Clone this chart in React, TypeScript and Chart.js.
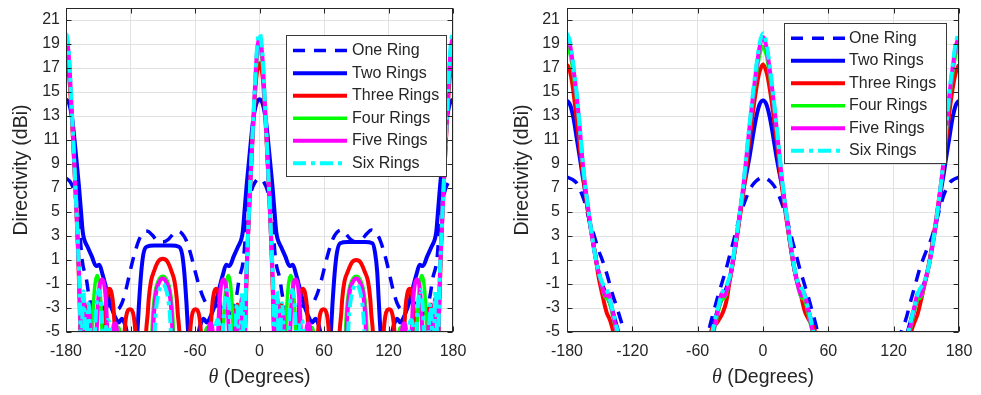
import { useEffect, useRef } from "react";
import { Chart, registerables } from "chart.js";
Chart.register(...registerables);

type P = [number, number];

const seriesLabels = ["One Ring", "Two Rings", "Three Rings", "Four Rings", "Five Rings", "Six Rings"];
const xTickValues = [-180, -120, -60, 0, 60, 120, 180];
const yTickValues = [-5, -3, -1, 1, 3, 5, 7, 9, 11, 13, 15, 17, 19, 21];
const xRange = [-180, 180];
const yRange = [-5, 22];
const yTitle = "Directivity (dBi)";

// ---------- Left panel ----------
const leftOne: P[] = [[-180,7.8],[-176,7.5],[-172,6.6],[-168,4.2],[-165,1.0],[-161,-0.6],[-159,-1.8],[-156,-3.0],[-152,-3.5],[-147,-3.2],[-142,-2.8],[-137,-2.9],[-132,-3.1],[-128,-2.6],[-124,-1.4],[-120,0.2],[-116,1.6],[-112,2.7],[-108,3.3],[-104,3.4],[-100,3.1],[-95,2.6],[-90,2.5],[-85,2.7],[-80,3.2],[-76,3.4],[-72,3.2],[-68,2.6],[-64,1.5],[-60,0.1],[-56,-1.2],[-52,-2.2],[-48,-2.8],[-43,-2.9],[-38,-2.8],[-33,-3.2],[-28,-3.5],[-24,-3.0],[-21,-1.8],[-19,-0.6],[-15,1.0],[-12,4.2],[-8,6.6],[-4,7.5],
[0,7.8],[4,7.5],[8,6.6],[12,4.2],[15,1.0],[19,-0.6],[21,-1.8],[24,-3.0],[28,-3.5],[33,-3.2],[38,-2.8],[43,-2.9],[48,-2.8],[52,-2.2],[56,-1.2],[60,0.2],[64,1.6],[68,2.7],[72,3.3],[76,3.5],[80,3.2],[85,2.7],[90,2.5],[95,2.7],[100,3.2],[104,3.5],[108,3.3],[112,2.7],[116,1.6],[120,0.2],[124,-1.4],[128,-2.6],[132,-3.1],[137,-2.6],[142,-2.4],[147,-3.0],[152,-3.5],[156,-3.0],[159,-1.8],[161,-0.6],[165,1.0],[168,4.2],[172,6.6],[176,7.5],[180,7.8]];

const leftTwo: P[] = [[-180,14.4],[-177,14.0],[-174,12.6],[-171,10.0],[-168,7.2],[-166,5.0],[-164.5,3.4],[-163,2.7],[-160,2.1],[-156,1.3],[-152,0.5],[-149,0.6],[-146,-0.2],[-143,-1.2],[-139,-2.6],[-135,-3.6],[-131,-4.2],[-128,-3.9],[-125,-4.4],[-122,-5.6],[-118,-7],[-114,-5.5],[-112,-2.5],[-110,0],[-108,1.5],[-105,2.1],[-98,2.2],[-90,2.2],[-82,2.2],[-75,2.1],[-72,1.5],[-70,0],[-68,-2.5],[-66,-5.5],[-62,-7],[-58,-5.6],[-55,-4.4],[-52,-3.9],[-49,-4.2],[-45,-3.6],[-41,-2.6],[-37,-1.2],[-34,-0.2],[-31,0.6],[-28,0.5],[-24,1.3],[-20,2.1],[-17,2.7],[-15.5,3.4],[-14,5.0],[-12,7.2],[-9,10.0],[-6,12.6],[-3,14.0],
[0,14.4],[3,14.0],[6,12.6],[9,10.0],[12,7.2],[14,5.0],[15.5,3.4],[17,2.7],[20,2.1],[24,1.3],[28,0.5],[31,0.6],[34,-0.2],[37,-1.2],[41,-2.6],[45,-3.6],[49,-4.2],[52,-3.9],[55,-4.4],[58,-5.6],[62,-7],[66,-5.5],[68,-2.5],[70,0],[72,1.6],[75,2.4],[82,2.5],[90,2.5],[98,2.5],[105,2.4],[107.5,1.6],[109.5,0],[111,-2.5],[113,-5.5],[117,-7],[122,-5.6],[125,-4.4],[128,-3.9],[131,-4.2],[135,-3.6],[139,-2.6],[143,-1.2],[146,-0.2],[149,0.6],[152,0.5],[156,1.3],[160,2.1],[163,2.7],[164.5,3.4],[166,5.0],[168,7.2],[171,10.0],[174,12.6],[177,14.0],[180,14.4]];

const leftThree: P[] = [[-180,17.4],[-178.5,17.1],[-177,16.2],[-175,13.6],[-173,10.2],[-171,6.5],[-169,2.3],[-167.5,-2],[-166.5,-5.5],[-165,-10],[-162.5,-5],[-161,-3.3],[-159.5,-2.7],[-158,-3.2],[-156.5,-5],[-154,-10],[-147,-10],[-144.5,-5],[-143,-2.6],[-141.5,-1.7],[-139.5,-1.4],[-137.5,-1.8],[-136,-2.8],[-134.5,-5],[-132,-10],[-128,-10],[-125.5,-5],[-124,-3.7],[-120.5,-3.1],[-117,-3.7],[-115.5,-5],[-113,-10],[-108,-10],[-105.5,-5],[-104,-3.5],[-103,-2.2],[-101,-0.8],[-98,0.1],[-94,0.9],[-90,1.1],[-86,0.9],[-82,0.1],[-79,-0.8],[-77,-2.2],[-76,-3.5],[-74.5,-5],[-72,-10],[-67,-10],[-64.5,-5],[-63,-3.7],[-59.5,-3.1],[-56,-3.7],[-54.5,-5],[-52,-10],[-48,-10],[-45.5,-5],[-44,-2.8],[-42.5,-1.8],[-40.5,-1.4],[-38.5,-1.7],[-37,-2.6],[-35.5,-5],[-33,-10],[-26,-10],[-23.5,-5],[-22,-3.2],[-20.5,-2.7],[-19,-3.3],[-17.5,-5],[-15,-10],[-13.5,-5.5],[-12.5,-2],[-11,2.3],[-9,6.5],[-7,10.2],[-5,13.6],[-3,16.2],[-1.5,17.1],
[0,17.4],[1.5,17.1],[3,16.2],[5,13.6],[7,10.2],[9,6.5],[11,2.3],[12.5,-2],[13.5,-5.5],[15,-10],[17.5,-5],[19,-3.3],[20.5,-2.7],[22,-3.2],[23.5,-5],[26,-10],[33,-10],[35.5,-5],[37,-2.6],[38.5,-1.7],[40.5,-1.4],[42.5,-1.8],[44,-2.8],[45.5,-5],[48,-10],[52,-10],[54.5,-5],[56,-3.7],[59.5,-3.1],[63,-3.7],[64.5,-5],[67,-10],[72,-10],[74.5,-5],[76,-3.5],[77,-2.2],[79,-0.8],[82,0.0],[86,0.8],[90,1.0],[94,0.8],[98,0.0],[101,-0.8],[103,-2.2],[104,-3.5],[105.5,-5],[108,-10],[113,-10],[115.5,-5],[117,-3.7],[120.5,-3.1],[124,-3.7],[125.5,-5],[128,-10],[132,-10],[134.5,-5],[136,-2.8],[137.5,-1.8],[139.5,-1.4],[141.5,-1.7],[143,-2.6],[144.5,-5],[147,-10],[154,-10],[156.5,-5],[158,-3.2],[159.5,-2.7],[161,-3.3],[162.5,-5],[165,-10],[166.5,-5.5],[167.5,-2],[169,2.3],[171,6.5],[173,10.2],[175,13.6],[177,16.2],[178.5,17.1],[180,17.4]];

const leftFour: P[] = [[-180,18.7],[-178.5,18.3],[-177,17.0],[-175,13.8],[-173,10.3],[-171,6.4],[-169,2.3],[-167.5,-1.5],[-166.5,-5],[-165.5,-10],[-164.5,-5],[-163,-2.9],[-161.5,-5],[-160.5,-10],[-160,-5],[-158.7,-3.8],[-157.4,-5],[-156.4,-10],[-155.5,-5],[-154.5,-2.8],[-153,-1.0],[-151,-0.3],[-149,-1.0],[-147.5,-2.8],[-146.5,-5],[-145,-10],[-136,-10],[-134.5,-5.2],[-132,-4.6],[-129.5,-5.2],[-128,-10],[-102,-10],[-100,-5],[-99,-3.2],[-97,-1.6],[-94,-0.7],[-90,-0.35],[-86,-0.7],[-83,-1.6],[-81,-3.2],[-80,-5],[-78,-10],[-52,-10],[-50.5,-5.2],[-48,-4.6],[-45.5,-5.2],[-44,-10],[-35,-10],[-33.5,-5],[-32.5,-2.8],[-31,-1.0],[-29,-0.3],[-27,-1.0],[-25.5,-2.8],[-24.5,-5],[-23.6,-10],[-22.6,-5],[-21.3,-3.8],[-20,-5],[-19.5,-10],[-18.5,-5],[-17,-2.9],[-15.5,-5],[-14.5,-10],[-13.5,-5],[-12.5,-1.5],[-11,2.3],[-9,6.4],[-7,10.3],[-5,13.8],[-3,17.0],[-1.5,18.3],
[0,18.7],[1.5,18.3],[3,17.0],[5,13.8],[7,10.3],[9,6.4],[11,2.3],[12.5,-1.5],[13.5,-5],[14.5,-10],[15.5,-5],[17,-2.9],[18.5,-5],[19.5,-10],[20,-5],[21.3,-3.8],[22.6,-5],[23.6,-10],[24.5,-5],[25.5,-2.8],[27,-1.0],[29,-0.3],[31,-1.0],[32.5,-2.8],[33.5,-5],[35,-10],[44,-10],[45.5,-5.2],[48,-4.6],[50.5,-5.2],[52,-10],[78,-10],[80,-5],[81,-3.2],[83,-1.6],[86,-0.7],[90,-0.35],[94,-0.7],[97,-1.6],[99,-3.2],[100,-5],[102,-10],[128,-10],[129.5,-5.2],[132,-4.6],[134.5,-5.2],[136,-10],[145,-10],[146.5,-5],[147.5,-2.8],[149,-1.0],[151,-0.3],[153,-1.0],[154.5,-2.8],[155.5,-5],[156.4,-10],[157.4,-5],[158.7,-3.8],[160,-5],[160.5,-10],[161.5,-5],[163,-2.9],[164.5,-5],[165.5,-10],[166.5,-5],[167.5,-1.5],[169,2.3],[171,6.4],[173,10.3],[175,13.8],[177,17.0],[178.5,18.3],[180,18.7]];

const leftFive: P[] = [[-180,19.5],[-178.5,19.0],[-177,17.5],[-175,14.0],[-173,10.4],[-171,6.5],[-169,2.4],[-167.5,-1.2],[-166.5,-5],[-165.5,-10],[-165,-5],[-163.5,-2.2],[-162,-5],[-161,-10],[-160,-5],[-158.5,-3.2],[-157,-5],[-155.5,-10],[-151.5,-5],[-150.5,-3.0],[-149,-1.3],[-146.5,-0.6],[-144,-1.3],[-142.5,-3.0],[-141.5,-5],[-139.5,-10],[-138,-10],[-136.5,-5],[-134.5,-4.3],[-132.5,-5],[-131,-10],[-101,-10],[-99,-5],[-98,-3.2],[-96,-1.6],[-93,-0.8],[-90,-0.55],[-87,-0.8],[-84,-1.6],[-82,-3.2],[-81,-5],[-79,-10],[-49,-10],[-47.5,-5],[-45.5,-4.3],[-43.5,-5],[-42,-10],[-40.5,-10],[-38.5,-5],[-37.5,-3.0],[-36,-1.3],[-33.5,-0.6],[-31,-1.3],[-29.5,-3.0],[-28.5,-5],[-24.5,-10],[-23,-5],[-21.5,-3.2],[-20,-5],[-19,-10],[-18,-5],[-16.5,-2.2],[-15,-5],[-14.5,-10],[-13.5,-5],[-12.5,-1.2],[-11,2.4],[-9,6.5],[-7,10.4],[-5,14.0],[-3,17.5],[-1.5,19.0],
[0,19.5],[1.5,19.0],[3,17.5],[5,14.0],[7,10.4],[9,6.5],[11,2.4],[12.5,-1.2],[13.5,-5],[14.5,-10],[15,-5],[16.5,-2.2],[18,-5],[19,-10],[20,-5],[21.5,-3.2],[23,-5],[24.5,-10],[28.5,-5],[29.5,-3.0],[31,-1.3],[33.5,-0.6],[36,-1.3],[37.5,-3.0],[38.5,-5],[40.5,-10],[42,-10],[43.5,-5],[45.5,-4.3],[47.5,-5],[49,-10],[79,-10],[81,-5],[82,-3.2],[84,-1.6],[87,-0.8],[90,-0.55],[93,-0.8],[96,-1.6],[98,-3.2],[99,-5],[101,-10],[131,-10],[132.5,-5],[134.5,-4.3],[136.5,-5],[138,-10],[139.5,-10],[141.5,-5],[142.5,-3.0],[144,-1.3],[146.5,-0.6],[149,-1.3],[150.5,-3.0],[151.5,-5],[155.5,-10],[157,-5],[158.5,-3.2],[160,-5],[161,-10],[162,-5],[163.5,-2.2],[165,-5],[165.5,-10],[166.5,-5],[167.5,-1.2],[169,2.4],[171,6.5],[173,10.4],[175,14.0],[177,17.5],[178.5,19.0],[180,19.5]];

const leftSix: P[] = [[-180,19.9],[-178.5,19.4],[-177,17.8],[-175,14.2],[-173,10.5],[-171,6.6],[-169,2.5],[-167.5,-1],[-166.5,-5],[-165.5,-10],[-165,-5],[-163.8,-1.6],[-162.5,-5],[-161.5,-10],[-160.5,-5],[-159,-2.6],[-157.5,-5],[-156,-10],[-154.5,-10],[-153,-5],[-151.5,-2.6],[-149.5,-1.5],[-147.5,-2.6],[-146,-5],[-144.5,-10],[-143,-5],[-141,-4.0],[-139,-5],[-137.5,-10],[-99,-10],[-97.5,-5],[-96.5,-3.4],[-94.5,-2.0],[-92.5,-1.3],[-90,-1.0],[-87.5,-1.3],[-85.5,-2.0],[-83.5,-3.4],[-82.5,-5],[-81,-10],[-42.5,-10],[-41,-5],[-39,-4.0],[-37,-5],[-35.5,-10],[-34,-5],[-32.5,-2.6],[-30.5,-1.5],[-28.5,-2.6],[-27,-5],[-25.5,-10],[-24,-10],[-22.5,-5],[-21,-2.6],[-19.5,-5],[-18.5,-10],[-17.5,-5],[-16.2,-1.6],[-15,-5],[-14.5,-10],[-13.5,-5],[-12.5,-1],[-11,2.5],[-9,6.6],[-7,10.5],[-5,14.2],[-3,17.8],[-1.5,19.4],
[0,19.9],[1.5,19.4],[3,17.8],[5,14.2],[7,10.5],[9,6.6],[11,2.5],[12.5,-1],[13.5,-5],[14.5,-10],[15,-5],[16.2,-1.6],[17.5,-5],[18.5,-10],[19.5,-5],[21,-2.6],[22.5,-5],[24,-10],[25.5,-10],[27,-5],[28.5,-2.6],[30.5,-1.5],[32.5,-2.6],[34,-5],[35.5,-10],[37,-5],[39,-4.0],[41,-5],[42.5,-10],[81,-10],[82.5,-5],[83.5,-3.4],[85.5,-2.0],[87.5,-1.3],[90,-1.0],[92.5,-1.3],[94.5,-2.0],[96.5,-3.4],[97.5,-5],[99,-10],[137.5,-10],[139,-5],[141,-4.0],[143,-5],[144.5,-10],[146,-5],[147.5,-2.6],[149.5,-1.5],[151.5,-2.6],[153,-5],[154.5,-10],[156,-10],[157.5,-5],[159,-2.6],[160.5,-5],[161.5,-10],[162.5,-5],[163.8,-1.6],[165,-5],[165.5,-10],[166.5,-5],[167.5,-1],[169,2.5],[171,6.6],[173,10.5],[175,14.2],[177,17.8],[178.5,19.4],[180,19.9]];

// ---------- Right panel ----------
const rightOne: P[] = [[-180,7.9],[-175,7.7],[-171,7.4],[-166,6.4],[-163,5.6],[-160,4.5],[-157,3.6],[-154,2.7],[-151,1.8],[-148,1.1],[-145,0.3],[-142,-0.6],[-140,-1.3],[-137,-2.2],[-134,-3.0],[-131,-3.9],[-128,-4.8],[-125,-5.8],[-120,-9],[-60,-9],[-54,-6],[-51,-5.3],[-48,-4.2],[-45,-3.2],[-42,-2.2],[-38,-1.0],[-34,0.2],[-30,1.6],[-27,2.6],[-24,3.7],[-20,5.0],[-17,5.8],[-14,6.5],[-10,7.2],[-6,7.6],[-3,7.8],
[0,7.9],[3,7.8],[6,7.6],[10,7.2],[14,6.5],[17,5.8],[20,5.0],[24,3.7],[27,2.6],[30,1.6],[34,0.2],[38,-1.0],[42,-2.2],[45,-3.2],[48,-4.2],[51,-5.3],[54,-6],[60,-9],[120,-9],[125,-6],[127,-5],[131,-4.0],[136,-2.3],[140,-1.0],[144,0.3],[148,1.3],[151,2.0],[155,2.9],[159,4.2],[163,5.5],[166,6.4],[171,7.4],[175,7.7],[180,7.9]];

const rightTwo: P[] = [[-180,14.3],[-177,13.9],[-174,12.8],[-171,11.1],[-168,9.4],[-166,8.2],[-164,7.1],[-162,5.8],[-160,4.6],[-158,3.5],[-155,1.9],[-152,0.4],[-150,-0.4],[-147,-1.2],[-144,-1.9],[-141,-2.5],[-138,-3.3],[-135,-4.3],[-132,-5.4],[-128,-8],[-52,-8],[-48,-5.4],[-45,-4.3],[-42,-3.3],[-39,-2.5],[-36,-1.9],[-33,-1.2],[-30,-0.3],[-27,1.2],[-24,3.0],[-21,5.0],[-18,6.9],[-15,8.3],[-12,9.8],[-9,11.5],[-6,13.0],[-3,14.0],
[0,14.3],[3,14.0],[6,13.0],[9,11.5],[12,9.8],[15,8.3],[18,6.9],[21,5.0],[24,3.0],[27,1.2],[30,-0.3],[33,-1.2],[36,-1.9],[39,-2.5],[42,-3.3],[45,-4.3],[48,-5.4],[52,-8],[128,-8],[132,-5.4],[135,-4.3],[138,-3.3],[141,-2.5],[144,-1.9],[147,-1.2],[150,-0.4],[152,0.4],[155,1.9],[158,3.5],[160,4.6],[162,5.8],[164,7.1],[166,8.2],[168,9.4],[171,11.1],[174,12.8],[177,13.9],[180,14.3]];

const rightThree: P[] = [[-180,17.3],[-177.5,16.8],[-175,15.6],[-172,13.4],[-169,11.0],[-166,8.6],[-163,6.5],[-160,4.7],[-157,3.0],[-154,1.4],[-151,-0.4],[-149,-1.3],[-147,-2.1],[-145,-2.9],[-143.5,-3.4],[-141,-3.9],[-139.5,-4.3],[-137.5,-5.0],[-135,-6.5],[-130,-9],[-50,-9],[-47.7,-5.0],[-44,-4.4],[-40,-3.9],[-37,-3.4],[-33.8,-2.5],[-31,-1.0],[-28,0.6],[-25,2.3],[-22,4.1],[-19,6.0],[-16,8.1],[-13,10.6],[-10,12.8],[-7,14.8],[-4,16.4],[-2,17.0],
[0,17.3],[2,17.0],[4,16.4],[7,14.8],[10,12.8],[13,10.6],[16,8.1],[19,6.0],[22,4.1],[25,2.3],[28,0.6],[31,-0.6],[33.8,-1.4],[36,-2.4],[38.5,-3.3],[41,-3.8],[43,-4.1],[45.5,-4.5],[47.7,-5.0],[50,-9],[130,-9],[134,-6],[136,-5.0],[139,-4.2],[142,-3.5],[145,-2.4],[148,-1.2],[150,-0.4],[153,1.0],[156,2.6],[159,4.4],[162,6.3],[165,8.4],[168,10.8],[171,13.2],[174,15.2],[177,16.6],[180,17.3]];

const rightFour: P[] = [[-180,18.8],[-177,18.1],[-174,16.4],[-171,14.2],[-168,11.4],[-166,9.3],[-164,7.6],[-161,5.5],[-158,3.6],[-155,1.9],[-152,0.5],[-150,-0.4],[-148,-1.2],[-146,-1.9],[-144,-2.2],[-142,-2.3],[-140,-2.9],[-138,-3.7],[-136,-4.5],[-134,-5.4],[-131,-8],[-49,-8],[-46,-5.4],[-44,-4.5],[-42,-3.7],[-40,-2.9],[-38,-2.3],[-36,-2.2],[-34,-1.9],[-32,-1.2],[-30,-0.3],[-27,1.2],[-24,3.0],[-21,5.0],[-18,7.1],[-15,9.6],[-12,12.2],[-9,14.5],[-6,16.5],[-3,18.1],
[0,18.8],[3,18.1],[6,16.5],[9,14.5],[12,12.2],[15,9.6],[18,7.1],[21,5.0],[24,3.0],[27,1.2],[30,-0.3],[32,-1.2],[34,-1.9],[36,-2.2],[38,-2.3],[40,-2.9],[42,-3.7],[44,-4.5],[46,-5.4],[49,-8],[131,-8],[134,-5.4],[136,-4.5],[138,-3.7],[140,-2.9],[142,-2.3],[144,-2.2],[146,-1.9],[148,-1.2],[150,-0.4],[152,0.5],[155,1.9],[158,3.6],[161,5.5],[164,7.6],[166,9.3],[168,11.4],[171,14.2],[174,16.4],[177,18.1],[180,18.8]];

const rightFive: P[] = [[-180,19.6],[-177,18.8],[-174,16.9],[-171,14.6],[-168,11.7],[-166,9.5],[-164,7.7],[-161,5.6],[-158,3.6],[-155,1.8],[-152,0.4],[-150,-0.3],[-148,-1.1],[-146,-1.7],[-144.5,-2.0],[-143,-1.7],[-141.5,-1.9],[-140,-2.5],[-138,-3.4],[-136,-4.3],[-133.5,-5.4],[-131,-8],[-49,-8],[-46.5,-5.4],[-44,-4.3],[-42,-3.4],[-40,-2.5],[-38.5,-1.9],[-37,-1.7],[-35.5,-2.0],[-34,-1.7],[-32,-1.1],[-30,-0.3],[-27,1.3],[-24,3.1],[-21,5.1],[-18,7.2],[-15,9.8],[-12,12.4],[-9,14.8],[-6,17.0],[-3,18.8],
[0,19.6],[3,18.8],[6,17.0],[9,14.8],[12,12.4],[15,9.8],[18,7.2],[21,5.1],[24,3.1],[27,1.3],[30,-0.3],[32,-1.1],[34,-1.7],[35.5,-2.0],[37,-1.7],[38.5,-1.9],[40,-2.5],[42,-3.4],[44,-4.3],[46.5,-5.4],[49,-8],[131,-8],[133.5,-5.4],[136,-4.3],[138,-3.4],[140,-2.5],[141.5,-1.9],[143,-1.7],[144.5,-2.0],[146,-1.7],[148,-1.1],[150,-0.3],[152,0.4],[155,1.8],[158,3.6],[161,5.6],[164,7.7],[166,9.5],[168,11.7],[171,14.6],[174,16.9],[177,18.8],[180,19.6]];

const rightSix: P[] = [[-180,19.9],[-177,19.1],[-174,17.1],[-171,14.8],[-168,11.8],[-166,9.6],[-164,7.8],[-161,5.6],[-158,3.6],[-155,1.8],[-152,0.4],[-150,-0.3],[-147,-1.0],[-145,-1.3],[-143,-1.6],[-141,-2.2],[-139,-2.9],[-137,-3.6],[-135,-4.4],[-133,-5.3],[-130,-8],[-50,-8],[-47,-5.3],[-45,-4.4],[-43,-3.6],[-41,-2.9],[-39,-2.2],[-37,-1.6],[-35,-1.3],[-33,-1.0],[-30,-0.2],[-27,1.4],[-24,3.2],[-21,5.2],[-18,7.3],[-15,10.0],[-12,12.6],[-9,15.1],[-6,17.3],[-3,19.1],
[0,19.9],[3,19.1],[6,17.3],[9,15.1],[12,12.6],[15,10.0],[18,7.3],[21,5.2],[24,3.2],[27,1.4],[30,-0.2],[33,-1.0],[35,-1.3],[37,-1.6],[39,-2.2],[41,-2.9],[43,-3.6],[45,-4.4],[47,-5.3],[50,-8],[130,-8],[133,-5.3],[135,-4.4],[137,-3.6],[139,-2.9],[141,-2.2],[143,-1.6],[145,-1.3],[147,-1.0],[150,-0.3],[152,0.4],[155,1.8],[158,3.6],[161,5.6],[164,7.8],[166,9.6],[168,11.8],[171,14.8],[174,17.1],[177,19.1],[180,19.9]];

const leftSeries = [leftOne, leftTwo, leftThree, leftFour, leftFive, leftSix];
const rightSeries = [rightOne, rightTwo, rightThree, rightFour, rightFive, rightSix];

const lineStyles = [
  { color: "#0000ff", width: 3.5, dash: [12, 9] },
  { color: "#0000ff", width: 4, dash: [] as number[] },
  { color: "#ff0000", width: 4, dash: [] as number[] },
  { color: "#00ff00", width: 3.5, dash: [] as number[] },
  { color: "#ff00ff", width: 4, dash: [] as number[] },
  { color: "#00ffff", width: 4, dash: [13, 5, 4, 5] },
];

const FONT = "'Liberation Sans', Arial, Helvetica, sans-serif";
const INK = "#262626";
const GRID = "#e2e2e2";

type Layout = {
  left: number; w: number; padRight: number; yWidth: number; tickPad: number; titlePad: number;
  legend: { x: number; y: number; w: number; h: number; row0: number; step: number; lx1: number; lx2: number; tx: number };
};

const leftLayout: Layout = {
  left: 0, w: 490, padRight: 37, yWidth: 66, tickPad: 6, titlePad: 9.8,
  legend: { x: 286, y: 35, w: 160, h: 141, row0: 50.6, step: 22.55, lx1: 293, lx2: 347, tx: 352 },
};
const rightLayout: Layout = {
  left: 490, w: 491, padRight: 22, yWidth: 77, tickPad: 7, titlePad: 20.8,
  legend: { x: 294, y: 23, w: 162, h: 140, row0: 38.3, step: 22.5, lx1: 301, lx2: 355, tx: 359 },
};

function Panel({ series, layout }: { series: P[][]; layout: Layout }) {
  const ref = useRef<HTMLCanvasElement>(null);
  useEffect(() => {
    const canvas = ref.current!;
    const frame = {
      id: "frame",
      afterDatasetsDraw(chart: any) {
        const { ctx, chartArea: a } = chart;
        const xs = chart.scales.x, ys = chart.scales.y;
        ctx.save();
        ctx.setLineDash([]);
        ctx.strokeStyle = INK;
        ctx.lineWidth = 1;
        const L = Math.round(a.left) + 0.5, R = Math.round(a.right) - 0.5;
        const T = Math.round(a.top) + 0.5, B = Math.round(a.bottom) - 0.5;
        ctx.strokeRect(L, T, R - L, B - T);
        ctx.beginPath();
        for (const v of xTickValues) {
          const px = Math.round(xs.getPixelForValue(v)) + 0.5;
          ctx.moveTo(px, B); ctx.lineTo(px, B - 5);
          ctx.moveTo(px, T); ctx.lineTo(px, T + 5);
        }
        for (const v of yTickValues) {
          const py = Math.round(ys.getPixelForValue(v)) + 0.5;
          ctx.moveTo(L, py); ctx.lineTo(L + 5, py);
          ctx.moveTo(R, py); ctx.lineTo(R - 5, py);
        }
        ctx.stroke();
        ctx.restore();
      },
    };
    const legendBox = {
      id: "legendBox",
      afterDraw(chart: any) {
        const { ctx } = chart;
        const g = layout.legend;
        ctx.save();
        ctx.fillStyle = "#ffffff";
        ctx.fillRect(g.x, g.y, g.w, g.h);
        ctx.strokeStyle = "#3a3a3a";
        ctx.lineWidth = 1;
        ctx.setLineDash([]);
        ctx.strokeRect(g.x + 0.5, g.y + 0.5, g.w, g.h);
        chart.data.datasets.forEach((ds: any, i: number) => {
          const y = g.row0 + i * g.step;
          ctx.strokeStyle = ds.borderColor;
          ctx.lineWidth = ds.borderWidth;
          ctx.setLineDash(ds.borderDash || []);
          ctx.beginPath();
          ctx.moveTo(g.lx1, y);
          ctx.lineTo(g.lx2, y);
          ctx.stroke();
          ctx.setLineDash([]);
          ctx.fillStyle = INK;
          ctx.font = `16px ${FONT}`;
          ctx.textBaseline = "middle";
          ctx.textAlign = "left";
          ctx.fillText(ds.label, g.tx, y);
        });
        ctx.restore();
      },
    };
    const xTitle = {
      id: "xTitle",
      afterDraw(chart: any) {
        const { ctx, chartArea: a } = chart;
        const cx = (a.left + a.right) / 2;
        const cy = 378;
        ctx.save();
        ctx.fillStyle = INK;
        ctx.textBaseline = "middle";
        ctx.textAlign = "left";
        const f1 = "italic 20px 'Liberation Serif', 'DejaVu Serif', serif";
        const f2 = `19.5px ${FONT}`;
        ctx.font = f1;
        const w1 = ctx.measureText("θ").width;
        ctx.font = f2;
        const rest = " (Degrees)";
        const w2 = ctx.measureText(rest).width;
        let x = cx - (w1 + w2) / 2;
        ctx.font = f1;
        ctx.fillText("θ", x, cy);
        x += w1;
        ctx.font = f2;
        ctx.fillText(rest, x, cy);
        ctx.restore();
      },
    };

    const chart = new Chart(canvas, {
      type: "line",
      data: {
        datasets: series.map((s, i) => ({
          label: seriesLabels[i],
          data: s.map(([x, y]) => ({ x, y })),
          borderColor: lineStyles[i].color,
          backgroundColor: lineStyles[i].color,
          borderWidth: lineStyles[i].width,
          borderDash: lineStyles[i].dash,
          pointRadius: 0,
          pointHoverRadius: 0,
          fill: false,
          cubicInterpolationMode: "monotone",
          clip: 0,
          order: 6 - i,
        })),
      },
      options: {
        responsive: false,
        animation: false,
        devicePixelRatio: 1,
        events: [],
        layout: { padding: { left: 0, right: layout.padRight, top: 8, bottom: 0 } },
        plugins: { legend: { display: false }, tooltip: { enabled: false } },
        scales: {
          x: {
            type: "linear",
            min: xRange[0],
            max: xRange[1],
            afterBuildTicks: (s: any) => { s.ticks = xTickValues.map((v) => ({ value: v })); },
            afterFit: (s: any) => { s.height = 63; s.paddingLeft = 0; s.paddingRight = 0; },
            ticks: { color: INK, font: { family: FONT, size: 16 }, padding: 10, autoSkip: false, maxRotation: 0, minRotation: 0 },
            grid: { color: GRID, lineWidth: 1, drawTicks: false },
            border: { display: false },
          },
          y: {
            type: "linear",
            min: yRange[0],
            max: yRange[1],
            afterBuildTicks: (s: any) => { s.ticks = yTickValues.map((v) => ({ value: v })); },
            afterFit: (s: any) => { s.width = layout.yWidth; s.paddingTop = 0; s.paddingBottom = 0; },
            ticks: { color: INK, font: { family: FONT, size: 16 }, padding: layout.tickPad, autoSkip: false },
            grid: { color: GRID, lineWidth: 1, drawTicks: false },
            border: { display: false },
            title: {
              display: true,
              text: yTitle,
              color: INK,
              font: { family: FONT, size: 19.5 },
              padding: { top: layout.titlePad, bottom: 0 },
            },
          },
        },
      } as any,
      plugins: [frame, legendBox, xTitle],
    });
    return () => chart.destroy();
  }, [series, layout]);
  return (
    <canvas
      ref={ref}
      width={layout.w}
      height={395}
      style={{ position: "absolute", left: layout.left, top: 0, width: layout.w, height: 395 }}
    />
  );
}

export default function App() {
  return (
    <div style={{ position: "absolute", left: 0, top: 0, width: 981, height: 395, background: "#ffffff", overflow: "hidden" }}>
      <Panel series={leftSeries} layout={leftLayout} />
      <Panel series={rightSeries} layout={rightLayout} />
    </div>
  );
}
